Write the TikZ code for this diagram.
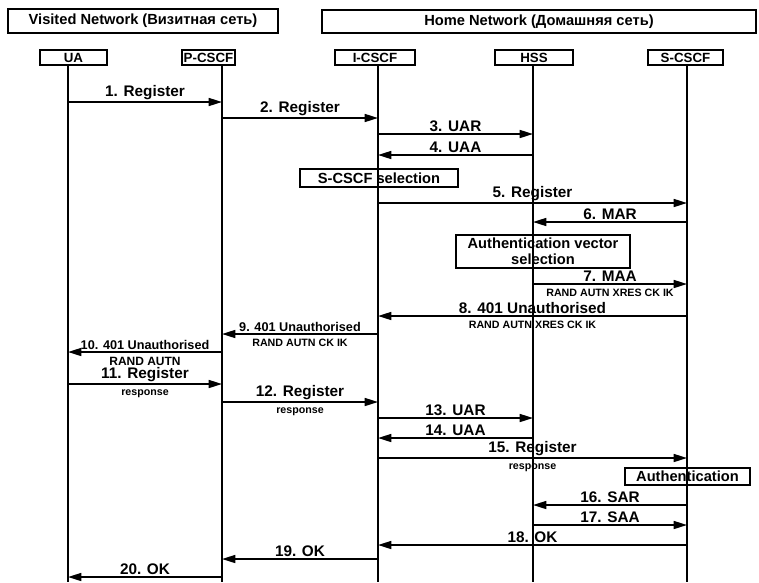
\documentclass[tikz,border=0pt]{standalone}
\usepackage{fontspec}
\setmainfont{Liberation Sans}
\usetikzlibrary{arrows.meta}

\begin{document}
\begin{tikzpicture}[x=0.75pt,y=-0.75pt,
    box/.style={draw,line width=1.3pt,inner sep=0pt,font=\bfseries\fontsize{11}{12}\selectfont},
    actor/.style={box,minimum height=11.25pt,font=\bfseries\fontsize{10}{11}\selectfont},
    life/.style={line width=1.2pt},
    msg/.style={line width=1.2pt,-{Triangle[length=10pt,width=6pt]}},
    lbl/.style={above,inner sep=1pt,font=\bfseries\fontsize{11.5}{12}\selectfont},
    lbls/.style={above,inner sep=1pt,font=\bfseries\fontsize{9.5}{10}\selectfont},
    sub/.style={below,inner sep=3.5pt,font=\bfseries\fontsize{8}{9}\selectfont}]

    \useasboundingbox (0,0) rectangle (759,582);

    % networks
    \node[box,minimum width=202.5pt,minimum height=18pt] (visited) at (143,21) {Visited Network (Визитная сеть)};
    \node[box,minimum width=325.5pt,minimum height=17.5pt] (home) at (539,21.5) {Home Network (Домашняя сеть)};

    % entities
    \node[actor,minimum width=50.25pt] (ua) at (73.5,57.5) {UA};
    \node[actor,minimum width=39.75pt] (pcscf) at (208.5,57.5) {P-CSCF};
    \node[actor,minimum width=60pt] (icscf) at (375,57.5) {I-CSCF};
    \node[actor,minimum width=58.5pt] (hss) at (534,57.5) {HSS};
    \node[actor,minimum width=56.25pt] (scscf) at (685.5,57.5) {S-CSCF};

    % lifelines
    \foreach \n/\x in {ua/68, pc/222, ic/378, hs/533, sc/687} {
        \coordinate (\n-top) at (\x,65);
        \coordinate (\n-bot) at (\x,582);
        \draw[life] (\n-top) -- (\n-bot);
    }

    % local procedures
    \node[box,minimum width=118.5pt,minimum height=13.5pt] (sel) at (379,178) {S-CSCF selection};
    \node[box,minimum width=130.5pt,minimum height=24.75pt,align=center] (avsel) at (543,251.5) {Authentication vector\\selection};
    \node[box,minimum width=93.75pt,minimum height=12.75pt] (auth) at (687.5,476.5) {Authentication};

    % first registration
    \draw[msg] (ua-top |- 0,102) -- node[lbl] {1. Register} (pc-top |- 0,102);
    \draw[msg] (pc-top |- 0,118) -- node[lbl] {2. Register} (ic-top |- 0,118);
    \draw[msg] (ic-top |- 0,134) -- node[lbl] {3. UAR} (hs-top |- 0,134);
    \draw[msg] (hs-top |- 0,155) -- node[lbl] {4. UAA} (ic-top |- 0,155);
    \draw[msg] (ic-top |- 0,203) -- node[lbl] {5. Register} (sc-top |- 0,203);
    \draw[msg] (sc-top |- 0,222) -- node[lbl] {6. MAR} (hs-top |- 0,222);
    \draw[msg] (hs-top |- 0,284) -- node[lbl] {7. MAA} node[sub] {RAND AUTN XRES CK IK} (sc-top |- 0,284);
    \draw[msg] (sc-top |- 0,316) -- node[lbl] {8. 401 Unauthorised} node[sub] {RAND AUTN XRES CK IK} (ic-top |- 0,316);
    \draw[msg] (ic-top |- 0,334) -- node[lbls] {9. 401 Unauthorised} node[sub] {RAND AUTN CK IK} (pc-top |- 0,334);
    \draw[msg] (pc-top |- 0,352) -- node[lbls] {10. 401 Unauthorised} node[sub,font=\bfseries\fontsize{9}{10}\selectfont] {RAND AUTN} (ua-top |- 0,352);

    % second registration
    \draw[msg] (ua-top |- 0,384) -- node[lbl] {11. Register} node[sub] {response} (pc-top |- 0,384);
    \draw[msg] (pc-top |- 0,402) -- node[lbl] {12. Register} node[sub] {response} (ic-top |- 0,402);
    \draw[msg] (ic-top |- 0,418) -- node[lbl] {13. UAR} (hs-top |- 0,418);
    \draw[msg] (hs-top |- 0,438) -- node[lbl] {14. UAA} (ic-top |- 0,438);
    \draw[msg] (ic-top |- 0,458) -- node[lbl] {15. Register} node[sub] {response} (sc-top |- 0,458);
    \draw[msg] (sc-top |- 0,505) -- node[lbl] {16. SAR} (hs-top |- 0,505);
    \draw[msg] (hs-top |- 0,525) -- node[lbl] {17. SAA} (sc-top |- 0,525);
    \draw[msg] (sc-top |- 0,545) -- node[lbl] {18. OK} (ic-top |- 0,545);
    \draw[msg] (ic-top |- 0,559) -- node[lbl] {19. OK} (pc-top |- 0,559);
    \draw[msg] (pc-top |- 0,577) -- node[lbl] {20. OK} (ua-top |- 0,577);
\end{tikzpicture}
\end{document}
